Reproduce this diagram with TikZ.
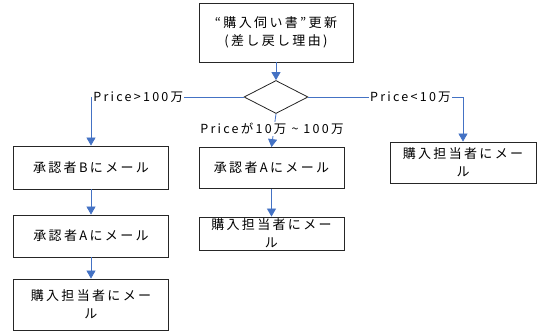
\documentclass[tikz,border=0pt]{standalone}
\usepackage{fontspec}
\setmainfont{Noto Sans CJK JP}[LetterSpace=18]
\usetikzlibrary{arrows.meta,shapes.geometric}
\definecolor{arr}{HTML}{4472C4}
\begin{document}
\begin{tikzpicture}[x=1pt,y=-1pt,
  box/.style={draw=black!85, line width=0.8pt, inner sep=0pt, align=center,
    font=\fontsize{13}{18}\selectfont},
  con/.style={draw=arr, line width=0.8pt, -{Triangle[width=9pt,length=8pt]}},
  lbl/.style={fill=white, inner sep=1pt, font=\fontsize{12.5}{14}\selectfont}]
\useasboundingbox (0,0) rectangle (542,331);
\node[box, minimum width=154pt, minimum height=59pt] (top) at (276,32.5) {“購入伺い書”更新\\(差し戻し理由)};
\node[draw=black!85, line width=0.8pt, diamond, minimum width=64pt, minimum height=33pt, inner sep=0pt] (dia) at (276,97) {};
\node[box, minimum width=155pt, minimum height=43pt] (lB) at (91,167.5) {承認者Bにメール};
\node[box, minimum width=155pt, minimum height=42pt] (lA) at (91,236) {承認者Aにメール};
\node[box, minimum width=155pt, minimum height=51pt] (lP) at (91,304.5) {購入担当者にメー\\ル};
\node[box, minimum width=145pt, minimum height=41pt] (mA) at (271.5,168) {承認者Aにメール};
\node[box, minimum width=145pt, minimum height=33pt] (mP) at (271.5,233.5) {購入担当者にメー\\ル};
\node[box, minimum width=146pt, minimum height=41pt] (rP) at (463,162.5) {購入担当者にメー\\ル};
\draw[con] (top.south) -- (dia.north);
\draw[con] (dia.west) -- node[lbl,pos=0.69]{Price>100万} (dia.west -| lB.north) -- (lB.north);
\draw[con] (dia.east) -- node[lbl,pos=0.66]{Price<10万} (dia.east -| rP.north) -- (rP.north);
\draw[con] (dia.south) -- node[lbl,pos=0.45,xshift=-2pt]{Priceが10万 \textasciitilde{} 100万} (mA.north);
\draw[con] (lB.south) -- (lA.north);
\draw[con] (lA.south) -- (lP.north);
\draw[con] (mA.south) -- (mP.north);
\end{tikzpicture}
\end{document}
